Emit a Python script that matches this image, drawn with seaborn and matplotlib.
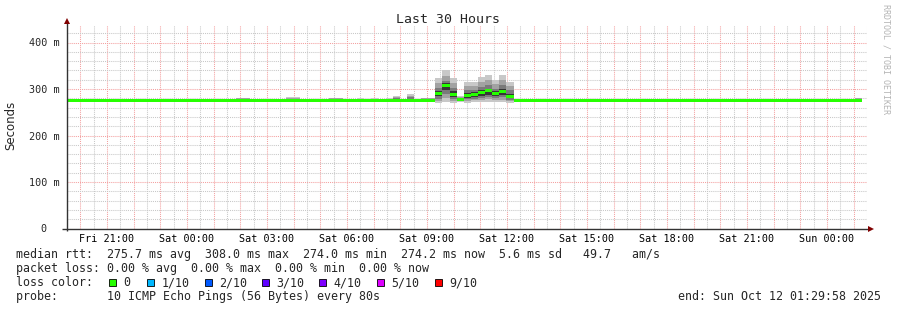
import matplotlib
matplotlib.use("Agg")
import matplotlib.pyplot as plt
from matplotlib.patches import Rectangle
import pandas as pd
import seaborn as sns

# ---------------- data ----------------
end_time = pd.Timestamp("2025-10-12 01:29:58")
span_hours = 30
bin_minutes = 16
bin_shift = -0.2          # bins are aligned 0.2 bin before the graph start

# median rtt per 16-minute bin (ms)
median_ms = [
    275, 275, 275, 275, 275, 275, 275, 275, 275, 275,
    275, 275, 275, 275, 275, 275, 275, 275, 275, 275,
    275, 275, 275, 275, 275, 275, 275, 275, 275, 275,
    275, 275, 275, 275, 275, 275, 275, 275, 274.4, 275,
    275, 275, 275, 275, 275, 275, 275, 274.4, 275, 275,
    275, 276, 290, 308, 289, 277, 286, 289, 293, 296,
    291, 294, 284, 275, 275, 275, 275, 275, 275, 275,
    275, 275, 275, 275, 275, 275, 275, 275, 275, 275,
    275, 275, 275, 275, 275, 275, 275, 275, 275, 275,
    275, 275, 275, 275, 275, 275, 275, 275, 275, 275,
    275, 275, 275, 275, 275, 275, 275, 275, 275, 275,
    275, 274.6,
]

# bins with visible smoke (ping spread), values in ms
smoke_bin = [24, 25, 31, 32, 37, 38, 41, 43, 45, 46, 48, 50, 51,
             52, 53, 54, 55, 56, 57, 58, 59, 60, 61, 62, 81, 111]
smoke_max = [281, 281, 282.5, 282.5, 281, 281, 280, 280, 280, 284.5, 289, 281, 281,
             323, 340, 323, 285, 316, 315, 325, 331, 320, 331, 316, 279.5, 281]
smoke_hi2 = [280, 280, 281, 281, 280, 280, 279, 279, 279, 282, 286, 280, 280,
             313, 329, 313, 282, 306, 306, 315, 320, 310, 320, 306, 278, 280]
smoke_hi3 = [278, 278, 279, 279, 278, 278, 277, 277, 277, 280, 282, 278, 278,
             303, 318, 303, 280, 297, 298, 305, 309, 301, 308, 297, 276, 278]
smoke_hi4 = [276, 276, 277, 277, 276, 276, 276, 276, 276, 277, 279, 276, 277,
             296, 312, 295, 279, 291, 293, 298, 301, 295, 300, 290, 276, 276]
smoke_lo4 = [275, 275, 275, 275, 274, 274, 275, 275, 275, 275, 276, 275, 275,
             284, 298, 283, 276, 281, 283, 286, 288, 285, 287, 280, 275, 274]
smoke_lo3 = [274, 274, 274, 274, 273, 273, 274, 274, 274, 274, 275, 274, 274,
             279, 290, 279, 275, 278, 279, 281, 282, 280, 282, 277, 274, 273]
smoke_lo2 = [273, 273, 273, 273, 273, 273, 273, 273, 273, 273, 274, 273, 273,
             275, 280, 275, 274, 275, 276, 277, 278, 276, 277, 274, 273, 273]
smoke_min = [272, 272, 272, 272, 272, 272, 272, 272, 272, 272, 273, 272, 272,
             270, 271, 270, 272, 270, 271, 271, 271, 271, 271, 270, 272, 272]

x_tick_labels = ["Fri 21:00", "Sat 00:00", "Sat 03:00", "Sat 06:00", "Sat 09:00",
                 "Sat 12:00", "Sat 15:00", "Sat 18:00", "Sat 21:00", "Sun 00:00"]
x_tick_times = ["2025-10-10 21:00", "2025-10-11 00:00", "2025-10-11 03:00",
                "2025-10-11 06:00", "2025-10-11 09:00", "2025-10-11 12:00",
                "2025-10-11 15:00", "2025-10-11 18:00", "2025-10-11 21:00",
                "2025-10-12 00:00"]
y_ticks = [0, 100, 200, 300, 400]
y_tick_labels = ["0  ", "100 m", "200 m", "300 m", "400 m"]

loss_labels = ["0", "1/10", "2/10", "3/10", "4/10", "5/10", "9/10"]
loss_colors = ["#26ff00", "#00b8ff", "#0059ff", "#5e00ff", "#7e00ff", "#dd00ff", "#ff0000"]

legend_rtt = "median rtt:  275.7 ms avg  308.0 ms max  274.0 ms min  274.2 ms now  5.6 ms sd   49.7   am/s"
legend_loss = "packet loss: 0.00 % avg  0.00 % max  0.00 % min  0.00 % now"
legend_probe = "probe:       10 ICMP Echo Pings (56 Bytes) every 80s"
end_text = "end: Sun Oct 12 01:29:58 2025"

# ---------------- style ----------------
sns.set_style("white")
plt.rcParams["font.family"] = ["DejaVu Sans Mono", "DejaVu Sans"]

W, H = 897, 310
fig = plt.figure(figsize=(W / 100, H / 100), dpi=100, facecolor="white")
ax = fig.add_axes([67 / W, 81.5 / H, 800 / W, 203.5 / H])
ax.set_facecolor("white")

start_time = end_time - pd.Timedelta(hours=span_hours)
hour = pd.Timedelta(hours=1)
bin_h = bin_minutes / 60.0

df = pd.DataFrame({"median": median_ms})
df["start_h"] = (df.index + bin_shift) * bin_h

sm = pd.DataFrame({"bin": smoke_bin, "max": smoke_max, "hi2": smoke_hi2, "hi3": smoke_hi3,
                   "hi4": smoke_hi4, "lo4": smoke_lo4, "lo3": smoke_lo3, "lo2": smoke_lo2,
                   "min": smoke_min})
sm["start_h"] = (sm["bin"] + bin_shift) * bin_h

band_cols = [("min", "max", "#c8c8c8"), ("lo2", "hi2", "#a2a2a2"),
             ("lo3", "hi3", "#7a7a7a"), ("lo4", "hi4", "#363636")]
for lo, hi, col in band_cols:
    ax.bar(sm["start_h"], sm[hi] - sm[lo], bottom=sm[lo], width=bin_h, align="edge",
           color=col, linewidth=0, zorder=3)

green_half = 3.3
ax.bar(df["start_h"], 2 * green_half, bottom=df["median"] - green_half, width=bin_h,
       align="edge", color=loss_colors[0], linewidth=0, zorder=4)

ax.set_xlim(0, span_hours)
ax.set_ylim(0, 203.5 / 0.465)

# grid
major_x = [(start_time.ceil("h") + k * hour - start_time) / hour for k in range(30)]
minor_x = [(start_time.ceil("30min") + k * hour - start_time) / hour for k in range(31)]
ax.set_xticks(major_x)
ax.set_xticks(minor_x, minor=True)
label_pos = [(pd.Timestamp(t) - start_time) / hour for t in x_tick_times]
ax.set_xticklabels(["" for _ in major_x])
ax.set_yticks(y_ticks, labels=y_tick_labels)
ax.set_yticks(range(0, 440, 20), minor=True)

ax.grid(which="minor", color="#c8c8c8", linestyle=(0, (1, 1)), linewidth=0.75, zorder=1)
ax.grid(which="major", color="#f4a0a0", linestyle=(0, (1, 1)), linewidth=0.75, zorder=2)
ax.set_axisbelow(True)

ax.tick_params(axis="x", which="both", length=0, labelbottom=False)
ax.tick_params(axis="y", which="major", length=3, width=0.8, color="#404040",
               pad=2.5, labelsize=7.3, direction="out")
ax.tick_params(axis="y", which="minor", length=0)

for lab, pos in zip(x_tick_labels, label_pos):
    ax.text(pos, -0.025, lab, transform=ax.get_xaxis_transform(), ha="center", va="top",
            fontsize=7.3, color="black")

for s in ax.spines.values():
    s.set_visible(False)

axis_col = "#333333"
arrow_col = "#800000"
ax.plot([-5 / 800, 1.0025], [0, 0], transform=ax.transAxes, clip_on=False,
        color=axis_col, lw=1.0, zorder=6, solid_capstyle="butt")
ax.plot([0, 0], [-2.5 / 203.5, 1.01], transform=ax.transAxes, clip_on=False,
        color=axis_col, lw=1.0, zorder=6, solid_capstyle="butt")
ax.plot([1.0045], [0], marker=">", markersize=4.5, color=arrow_col, transform=ax.transAxes,
        clip_on=False, zorder=7, markeredgewidth=0)
ax.plot([0], [1.02], marker="^", markersize=4.5, color=arrow_col, transform=ax.transAxes,
        clip_on=False, zorder=7, markeredgewidth=0)

# titles and labels
fig.text(448 / W, 1 - 19.5 / H, "Last 30 Hours", ha="center", va="center", fontsize=9.5)
fig.text(11 / W, 1 - 125 / H, "Seconds", rotation=90, ha="center", va="center",
         fontsize=8.5, family=["DejaVu Sans"])
fig.text(886 / W, 1 - 59 / H, "RRDTOOL / TOBI OETIKER", rotation=270, ha="center",
         va="center", fontsize=6, color="#b4b4b4")

# legend block
lx = 16 / W
fs = 8.4
fig.text(lx, 1 - 254.5 / H, legend_rtt, ha="left", va="center", fontsize=fs)
fig.text(lx, 1 - 268.5 / H, legend_loss, ha="left", va="center", fontsize=fs)
fig.text(lx, 1 - 282.5 / H, "loss color:", ha="left", va="center", fontsize=fs)
fig.text(lx, 1 - 296.5 / H, legend_probe, ha="left", va="center", fontsize=fs)
fig.text(881 / W, 1 - 296.5 / H, end_text, ha="right", va="center", fontsize=fs)

box_left = [108.5, 147, 204.5, 262, 319, 377, 435]
for bx, lab, col in zip(box_left, loss_labels, loss_colors):
    fig.patches.append(Rectangle((bx / W, 1 - 285.5 / H), 7 / W, 7 / H,
                                 transform=fig.transFigure, facecolor=col,
                                 edgecolor="black", linewidth=0.6))
    fig.text((bx + 14.5) / W, 1 - 282.5 / H, lab, ha="left", va="center", fontsize=fs)

fig.savefig("out.png", dpi=100, facecolor="white")
